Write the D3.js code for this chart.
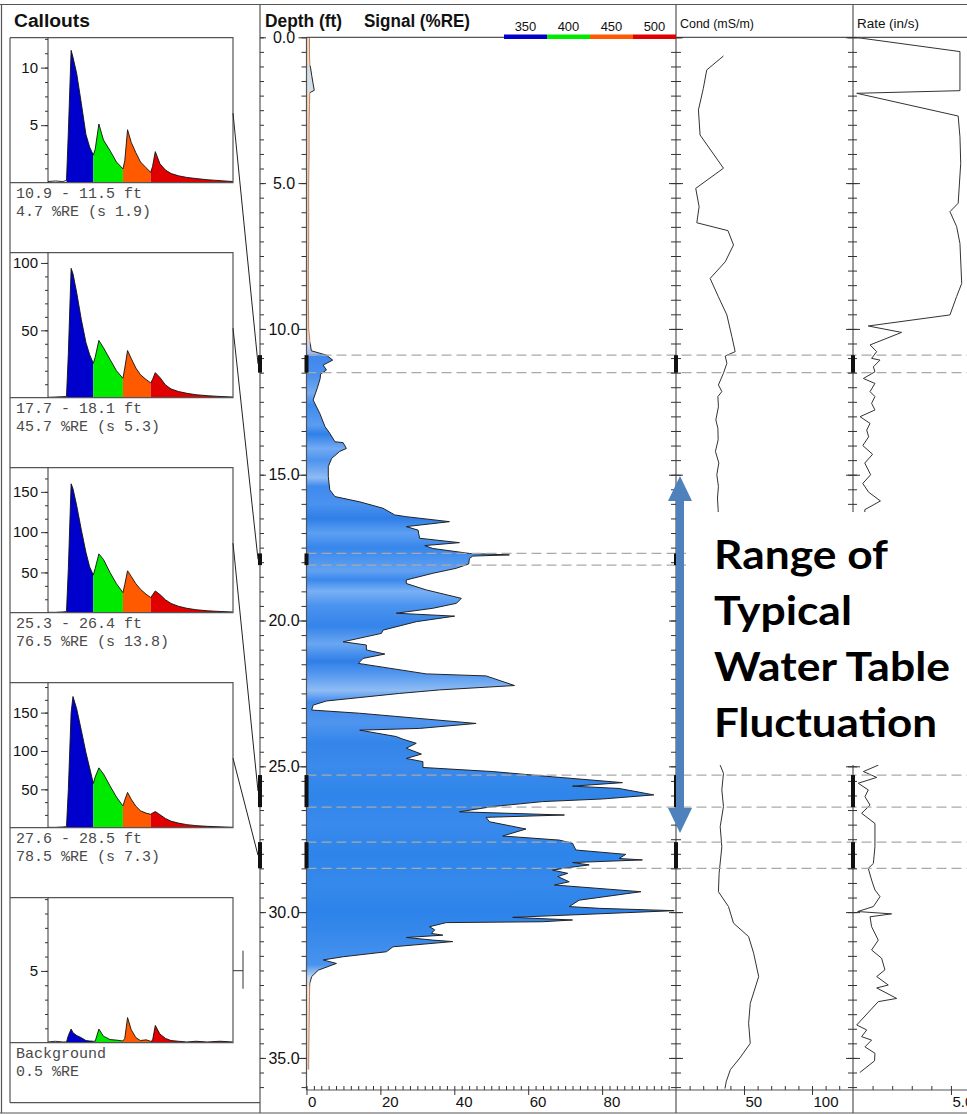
<!DOCTYPE html>
<html>
<head>
<meta charset="utf-8">
<script src="https://cdn.jsdelivr.net/npm/d3@7"></script>
<style>
  body { margin: 0; background: #fff; }
  svg { display: block; font-family: "Liberation Sans", Arial, sans-serif; }
</style>
</head>
<body>
<svg id="chart" width="967" height="1114"></svg>
<script>
// ---------- Signal log (%RE) ----------
const sigDepth = [0.0,0.5,0.95,1.05,1.3,1.6,1.82,1.9,2.3,3.0,4.0,5.0,6.0,7.0,8.0,9.0,10.0,10.4,10.75,10.9,11.07,11.24,11.41,11.55,11.7,12.0,12.44,12.9,13.35,13.58,13.87,13.9,14.1,14.2,14.44,14.72,15.07,15.52,15.75,15.93,16.15,16.38,16.44,16.61,16.78,16.9,17.18,17.33,17.43,17.53,17.7,17.75,17.79,17.87,18.06,18.21,18.38,18.61,18.73,18.95,19.24,19.41,19.58,19.75,19.85,20.04,20.33,20.44,20.73,20.84,21.01,21.15,21.3,21.47,21.83,21.9,22.23,22.38,22.5,22.76,22.9,23.07,23.18,23.53,23.7,23.76,23.98,24.07,24.21,24.38,24.58,24.73,24.84,25.04,25.18,25.36,25.53,25.56,25.68,25.76,25.98,26.12,26.21,26.38,26.56,26.67,26.75,26.9,27.15,27.39,27.53,27.64,27.87,28.02,28.16,28.21,28.3,28.38,28.47,28.56,28.67,28.78,28.96,29.07,29.18,29.3,29.59,29.81,29.87,29.95,30.02,30.18,30.27,30.33,30.36,30.5,30.61,30.73,30.79,30.87,30.96,31.01,31.19,31.36,31.53,31.64,31.76,31.99,32.21,32.44,32.9,34.0,35.07,35.4];
const sigValue = [0.8,0.8,0.9,1.1,1.4,1.8,2.1,0.9,0.8,0.7,0.7,0.6,0.6,0.6,0.5,0.5,0.6,0.9,1.3,5.4,7.1,4.5,5.4,3.8,3.7,3.0,1.8,3.6,5.0,6.3,7.7,9.9,10.8,9.0,6.8,5.9,5.9,6.3,7.7,14.4,20.7,23.9,27.0,38.7,27.0,30.2,30.6,41.4,32.0,34.2,44.1,54.9,45.0,44.1,43.9,40.5,34.2,27.0,27.0,32.4,41.9,40.6,34.2,24.3,40.1,29.7,20.7,20.3,9.9,16.2,16.2,21.2,15.3,14.0,32.4,48.6,56.3,36.0,25.2,5.4,1.8,1.4,14.4,45.9,30.6,14.4,24.3,26.1,29.7,27.0,31.1,27.0,31.5,31.5,50.4,66.6,82.8,85.5,72.0,84.6,94.0,80.1,63.9,50.4,41.4,69.8,48.6,49.5,59.4,53.1,68.4,72.0,72.9,86.4,84.6,90.9,72.0,76.5,71.1,66.6,70.7,68.0,71.1,67.1,78.3,90.5,73.8,71.1,79.2,99.5,86.4,55.8,72.0,63.9,37.8,33.3,34.7,33.8,36.9,27.0,34.2,39.6,23.4,21.6,9.9,4.5,8.1,3.2,1.4,0.9,0.8,0.7,0.6,0.6];

// ---------- Conductivity (mS/m) ----------
const condDepth = [0.64,1.12,1.75,2.49,3.35,4.49,5.18,5.81,6.36,6.63,7.12,7.7,8.27,8.9,9.52,10.27,10.78,10.93,11.18,11.52,11.92,12.15,12.32,12.67,13.12,13.41,13.8,14.2,14.6,15.0,15.4,15.8,16.2,24.96,25.24,25.81,26.38,27.07,27.76,28.67,29.3,29.81,30.38,30.84,31.41,32.21,33.13,33.81,34.5,35.0,35.4,35.8,36.05];
const condValue = [34.9,22.6,20.1,16.5,17.7,34.9,14.5,17.0,15.3,38.2,42.3,36.2,25.1,31.2,37.4,41.1,43.5,36.2,37.4,34.9,31.2,33.7,30.8,31.2,29.3,30.8,31.0,29.0,31.5,30.0,31.2,30.5,31.0,32.5,34.9,33.7,34.9,32.5,33.7,31.7,31.2,38.6,42.3,53.4,57.1,60.8,54.6,53.4,54.6,47.0,40.0,37.0,36.0];

// ---------- Penetration rate (in/s) ----------
const rateDepth = [0.0,0.49,1.83,1.92,2.7,3.41,4.32,5.69,5.98,6.49,7.07,8.44,8.89,9.52,9.9,10.12,10.55,10.78,11.01,11.07,11.3,11.47,11.7,11.87,12.15,12.32,12.55,12.78,13.01,13.24,13.47,13.7,14.0,14.3,14.6,15.0,15.3,15.6,15.9,16.2,24.96,25.18,25.38,25.58,25.81,26.04,26.33,26.61,26.96,27.76,28.33,28.5,28.9,29.24,29.47,29.81,29.98,30.06,30.16,30.5,30.96,31.3,31.58,31.98,32.21,32.5,32.6,32.96,33.07,33.87,34.04,34.27,34.39,34.62,34.84,35.1,35.5];
const rateValue = [0.1,5.46,5.46,0.19,5.37,5.46,5.5,5.37,4.95,5.29,5.46,5.55,5.29,4.95,0.78,2.48,0.87,1.21,0.95,1.38,1.04,1.12,0.53,1.12,0.87,1.12,0.95,1.12,0.36,0.87,0.7,0.8,0.5,1.0,0.6,0.9,0.5,0.8,1.4,0.6,1.29,0.53,1.21,0.27,0.78,0.61,0.87,0.44,1.12,1.12,1.04,0.78,0.95,1.12,1.38,1.04,0.24,1.97,0.87,0.95,1.29,0.95,1.46,1.63,1.21,1.8,1.21,2.23,1.29,0.19,0.7,0.44,0.95,0.61,1.12,1.1,0.35];

// ---------- Callout intervals ----------
const calloutTop = [10.9, 17.7, 25.3, 27.6];
const calloutBottom = [11.5, 18.1, 26.4, 28.5];
const calloutLine1 = ["10.9 - 11.5 ft", "17.7 - 18.1 ft", "25.3 - 26.4 ft", "27.6 - 28.5 ft", "Background"];
const calloutLine2 = ["4.7 %RE (s 1.9)", "45.7 %RE (s 5.3)", "76.5 %RE (s 13.8)", "78.5 %RE (s 7.3)", "0.5 %RE"];
const calloutMax = [12.6, 107.6, 180, 189, 10.1];
const calloutLabels = [[5, 10], [50, 100], [50, 100, 150], [50, 100, 150], [5]];
const calloutMinorStep = [1.25, 10, 50 / 3, 50 / 3, 1];

// ---------- Waveforms (time in ns) ----------
const waveTime = [0,8,16,20,22,25,27,31,36,41,45,49,51,55,60,67,74,81,83,86,90,95,100,106,111,113,116,121,127,133,141,150,160,172,186,200];
const wave1 = [0.1,0.15,0.1,0.2,4.4,11.5,10.9,9.5,6.9,4.2,3.1,2.4,2.9,5.1,3.7,2.8,1.8,1.2,1.9,4.6,3.5,2.6,1.8,1.3,0.9,1.4,2.7,1.65,1.1,0.8,0.6,0.46,0.36,0.26,0.18,0.1];
const wave2 = [0.3,0.5,0.8,1,33,96,92,78,58,41,32,25.5,30,42.5,37,28.5,20,14.4,22,35,29,22,17,13.5,11,13.5,18.6,15,9.5,6.5,4.6,3.3,2.2,1.5,0.9,0.5];
const wave3 = [0.5,0.5,1,1.5,55,160,154,133,103,75,57,46.7,55,73,66,50,36,25,35,52,45,36,29,23,18.8,22,27,22.5,16,11.5,8,5.5,3.7,2.4,1.5,0.9];
const wave4 = [0.5,0.5,1,1.5,50,150,171,155,127,98,78,57.7,66,78,70,54.6,40,28.4,36,46,37,28,22,19,17.5,19,21,17,12,8.5,6,4,2.7,1.8,1.1,0.6];
const wave5 = [0.05,0.1,0.05,0.05,0.5,0.95,0.7,0.5,0.35,0.15,0.12,0.1,0.1,0.95,0.45,0.22,0.18,0.12,0.3,1.75,0.9,0.35,0.15,0.2,0.1,0.15,1.2,0.6,0.3,0.15,0.1,0.05,0.1,0.05,0.1,0.05];
const waves = [wave1, wave2, wave3, wave4, wave5];

// channels (nm) and the sample index where each channel starts/ends
const channelNames = ["350", "400", "450", "500"];
const channelColors = ["#0000cc", "#00ea00", "#ff5a00", "#e00000"];
const channelStartIdx = [3, 11, 17, 24];
const channelEndIdx = [11, 17, 24, 35];

// depth ticks
const depthMajor = d3.range(0, 36, 5);
const depthMinor = d3.range(0, 36.01, 0.5);

// shading of the signal fill along depth
const fillStops = [
  [0, "#f7d6bf"], [0.95, "#f7d6bf"], [1.0, "#d4dfe9"], [1.85, "#d4dfe9"], [1.9, "#f7d6bf"],
  [10.3, "#f5d3c0"], [10.55, "#c9d3f3"], [10.85, "#9db7f0"], [10.95, "#3f88ec"],
  [11.6, "#4a90ee"], [12.2, "#75aaf2"], [12.6, "#3d8bee"], [13.3, "#5b9cf0"], [13.6, "#2f80ea"],
  [14.1, "#72aaf3"], [14.5, "#4d93ee"], [15.1, "#8ebaf5"], [15.4, "#3f8aee"], [16.0, "#4a92ef"],
  [16.5, "#2f7fe8"], [17.0, "#5c9ff2"], [17.5, "#3786ec"], [18.3, "#62a2f2"], [18.6, "#3b88ec"],
  [19.0, "#78b0f4"], [19.5, "#4a92ef"], [20.2, "#3584ea"], [20.8, "#6aa6f2"], [21.4, "#2f7fe8"],
  [21.9, "#5a9cf0"], [22.4, "#8fbcf4"], [22.8, "#3f8aee"], [23.5, "#4f95ef"], [24.2, "#3485ea"],
  [25.0, "#3b8aec"], [26.0, "#2f85ea"], [27.0, "#3a8aec"], [28.0, "#2d84ea"], [29.0, "#3689eb"],
  [30.0, "#2c83e9"], [31.0, "#3b8bec"], [31.8, "#4893ee"], [32.25, "#c4d8f3"], [32.6, "#fbe4d8"],
  [36.1, "#f7d6bf"]
];
const strokeStops = [
  [0, "#b98060"], [0.95, "#b98060"], [1.0, "#222"], [1.88, "#222"], [1.92, "#b98060"],
  [10.45, "#b98060"], [10.55, "#222"], [32.3, "#222"], [32.6, "#b98060"], [36.1, "#b98060"]
];

// ---------- Layout ----------
const svg = d3.select("#chart");
const topY = 37.3, baseY = 1090, depthMax = 36.1;
const depthAxisX = 306.5, calloutAxisX = 260, condX = 676, rateX = 853;

const y = d3.scaleLinear().domain([0, depthMax]).range([topY, baseY]);
const xSig = d3.scaleLinear().domain([0, 100]).range([depthAxisX, condX]);
const xCond = d3.scaleLinear().domain([0, 130]).range([condX, 852.8]);
const xRate = d3.scaleLinear().domain([0, 5.82]).range([rateX, 967]);

svg.append("rect").attr("width", 967).attr("height", 1114).attr("fill", "#fff");

const defs = svg.append("defs");
function depthGradient(id, stops) {
  const g = defs.append("linearGradient").attr("id", id)
    .attr("gradientUnits", "userSpaceOnUse")
    .attr("x1", 0).attr("x2", 0).attr("y1", y(0)).attr("y2", y(depthMax));
  g.selectAll("stop").data(stops).join("stop")
    .attr("offset", d => d[0] / depthMax)
    .attr("stop-color", d => d[1]);
}
depthGradient("sigFill", fillStops);
depthGradient("sigStroke", strokeStops);

// ---------- Signal ----------
const sigData = sigDepth.map((d, i) => ({ d, v: sigValue[i] }));
svg.append("path").datum(sigData)
  .attr("fill", "url(#sigFill)")
  .attr("d", d3.area().y(p => y(p.d)).x0(xSig(0)).x1(p => xSig(p.v)));
svg.append("path").datum(sigData)
  .attr("fill", "none").attr("stroke", "url(#sigStroke)").attr("stroke-width", 1)
  .attr("d", d3.line().y(p => y(p.d)).x(p => xSig(p.v)));

// ---------- Conductivity & rate ----------
svg.append("path").datum(condDepth.map((d, i) => [condValue[i], d]))
  .attr("fill", "none").attr("stroke", "#333").attr("stroke-width", 1)
  .attr("d", d3.line().x(p => xCond(p[0])).y(p => y(p[1])));
svg.append("path").datum(rateDepth.map((d, i) => [rateValue[i], d]))
  .attr("fill", "none").attr("stroke", "#333").attr("stroke-width", 1)
  .attr("d", d3.line().x(p => xRate(p[0])).y(p => y(p[1])));

// ---------- Interval dashed lines ----------
const edges = calloutTop.concat(calloutBottom);
svg.append("g").selectAll("line").data(edges).join("line")
  .attr("x1", depthAxisX).attr("x2", 967)
  .attr("y1", d => y(d)).attr("y2", d => y(d))
  .attr("stroke", "#a9a9a9").attr("stroke-width", 1.3).attr("stroke-dasharray", "10,5");

// ---------- Frame ----------
const frame = svg.append("g").attr("stroke", "#555").attr("stroke-width", 1.2).attr("fill", "none");
frame.append("line").attr("x1", 0).attr("x2", 967).attr("y1", 4.5).attr("y2", 4.5);
frame.append("line").attr("x1", 1.5).attr("x2", 1.5).attr("y1", 4.5).attr("y2", 1113);
frame.append("line").attr("x1", 0).attr("x2", 967).attr("y1", 1113).attr("y2", 1113);
[calloutAxisX, condX, rateX].forEach(x =>
  frame.append("line").attr("x1", x).attr("x2", x).attr("y1", 4.5).attr("y2", 1113));
frame.append("line").attr("x1", depthAxisX).attr("x2", depthAxisX).attr("y1", topY).attr("y2", baseY);
frame.append("line").attr("x1", depthAxisX).attr("x2", 967).attr("y1", topY).attr("y2", topY);
frame.append("line").attr("x1", depthAxisX).attr("x2", 967).attr("y1", baseY).attr("y2", baseY);

// depth ticks on the panel edges
function depthTicks(x, axisFn, size, values) {
  const g = svg.append("g").attr("transform", `translate(${x},0)`)
    .call(axisFn(y).tickValues(values).tickSize(size).tickFormat(""));
  g.select(".domain").remove();
  g.selectAll("line").attr("stroke", "#333");
  return g;
}
depthTicks(calloutAxisX, d3.axisRight, 4, depthMinor);
depthTicks(calloutAxisX, d3.axisRight, 6, depthMajor);
depthTicks(depthAxisX, d3.axisLeft, 5, depthMinor);
depthTicks(depthAxisX, d3.axisLeft, 8, depthMajor);
depthTicks(condX, d3.axisLeft, 5, depthMinor);
depthTicks(condX, d3.axisRight, 5, depthMinor);
depthTicks(condX, d3.axisLeft, 7, depthMajor);
depthTicks(condX, d3.axisRight, 7, depthMajor);
depthTicks(rateX, d3.axisLeft, 5, depthMinor);
depthTicks(rateX, d3.axisRight, 4, depthMinor);
depthTicks(rateX, d3.axisLeft, 7, depthMajor);
depthTicks(rateX, d3.axisRight, 7, depthMajor);

// depth labels
const depthLab = svg.append("g").attr("transform", `translate(${depthAxisX},0)`)
  .call(d3.axisLeft(y).tickValues(depthMajor).tickSize(0).tickFormat(d3.format(".1f")));
depthLab.select(".domain").remove();
depthLab.selectAll("text").attr("x", -22.5).attr("text-anchor", "middle")
  .style("font-size", "16px").style("font-family", "Liberation Sans, Arial, sans-serif").attr("fill", "#111");

// bottom axes
function bottomAxis(scale, minorVals, majorVals, fmt) {
  const g1 = svg.append("g").attr("transform", `translate(0,${baseY})`)
    .call(d3.axisTop(scale).tickValues(minorVals).tickSize(4).tickFormat(""));
  g1.select(".domain").remove();
  g1.selectAll("line").attr("stroke", "#333");
  const g2 = svg.append("g").attr("transform", `translate(0,${baseY})`)
    .call(d3.axisBottom(scale).tickValues(majorVals).tickSize(5).tickPadding(1).tickFormat(fmt));
  g2.select(".domain").remove();
  g2.selectAll("line").attr("stroke", "#333");
  g2.selectAll("text").attr("text-anchor", "start").attr("dx", 1)
    .style("font-size", "15px").style("font-family", "Liberation Sans, Arial, sans-serif").attr("fill", "#111");
}
bottomAxis(xSig, d3.range(0, 100, 2), [0, 20, 40, 60, 80], d3.format("d"));
bottomAxis(xCond, d3.range(10, 130, 10), [50, 100], d3.format("d"));
bottomAxis(xRate, d3.range(1, 6, 1), [5], d3.format(".1f"));

// interval markers on the edges
[calloutAxisX, depthAxisX, condX, rateX].forEach(x => {
  svg.append("g").selectAll("rect").data(calloutTop).join("rect")
    .attr("x", x - 2).attr("width", 4)
    .attr("y", d => y(d)).attr("height", (d, i) => y(calloutBottom[i]) - y(d))
    .attr("fill", "#111");
});

// ---------- Callouts ----------
const boxLeft = 10, plotLeft = 48, boxRight = 233, boxStep = 215, plotH = 145, boxTop0 = 37.7;
const xWave = d3.scaleLinear().domain([0, 200]).range([plotLeft, boxRight]);

svg.append("line").attr("x1", boxLeft).attr("x2", boxLeft).attr("y1", boxTop0).attr("y2", 1102.7)
  .attr("stroke", "#555").attr("stroke-width", 1.2);
svg.append("line").attr("x1", boxLeft).attr("x2", calloutAxisX).attr("y1", 1102.7).attr("y2", 1102.7)
  .attr("stroke", "#555").attr("stroke-width", 1.2);

waves.forEach((w, k) => {
  const top = boxTop0 + k * boxStep, base = top + plotH;
  const yW = d3.scaleLinear().domain([0, calloutMax[k]]).range([base, top]);
  const g = svg.append("g");

  // channel fills
  channelNames.forEach((c, ci) => {
    const pts = waveTime.map((t, i) => [t, w[i]]).slice(channelStartIdx[ci], channelEndIdx[ci] + 1);
    g.append("path").datum(pts).attr("fill", channelColors[ci])
      .attr("d", d3.area().x(p => xWave(p[0])).y0(base).y1(p => yW(p[1])));
  });
  g.append("path").datum(waveTime.map((t, i) => [t, w[i]]))
    .attr("fill", "none").attr("stroke", "#111").attr("stroke-width", 0.9)
    .attr("d", d3.line().x(p => xWave(p[0])).y(p => yW(p[1])));

  // box
  g.append("path").attr("fill", "none").attr("stroke", "#555").attr("stroke-width", 1.2)
    .attr("d", `M${boxLeft},${top}H${boxRight}V${base}H${boxLeft}`);
  g.append("line").attr("x1", plotLeft).attr("x2", plotLeft).attr("y1", top).attr("y2", base)
    .attr("stroke", "#333").attr("stroke-width", 1);

  // y ticks
  const minor = g.append("g").attr("transform", `translate(${plotLeft},0)`)
    .call(d3.axisLeft(yW).tickValues(d3.range(calloutMinorStep[k], calloutMax[k], calloutMinorStep[k])).tickSize(3).tickFormat(""));
  minor.select(".domain").remove();
  minor.selectAll("line").attr("stroke", "#333");
  const major = g.append("g").attr("transform", `translate(${plotLeft},0)`)
    .call(d3.axisLeft(yW).tickValues(calloutLabels[k]).tickSize(7).tickPadding(3).tickFormat(d3.format("d")));
  major.select(".domain").remove();
  major.selectAll("line").attr("stroke", "#333");
  major.selectAll("text").style("font-size", "15px").attr("fill", "#111")
    .style("font-family", "Liberation Sans, Arial, sans-serif");

  // captions
  [calloutLine1[k], calloutLine2[k]].forEach((s, li) => {
    g.append("text").attr("x", 16).attr("y", base + 15 + li * 18)
      .style("font-family", "'Liberation Mono', 'Courier New', monospace")
      .style("font-size", "15px").attr("fill", "#4a4a4a").text(s);
  });

  // leader lines
  if (k < calloutTop.length) {
    const target = (calloutTop[k] + calloutBottom[k]) / 2;
    g.append("line").attr("x1", boxRight).attr("y1", top + 75.5)
      .attr("x2", calloutAxisX - 2).attr("y2", y(target))
      .attr("stroke", "#222").attr("stroke-width", 1);
  } else {
    g.append("path").attr("fill", "none").attr("stroke", "#333").attr("stroke-width", 1)
      .attr("d", `M${boxRight},${top + 73}H${boxRight + 10}M${boxRight + 10},${top + 53}V${top + 91}`);
  }
});

// ---------- Header ----------
const hdr = svg.append("g").attr("fill", "#111");
function hText(x, yy, size, bold, len, s) {
  const t = hdr.append("text").attr("x", x).attr("y", yy)
    .style("font-size", size + "px").style("font-weight", bold ? "bold" : "normal").text(s);
  if (len) t.attr("textLength", len).attr("lengthAdjust", "spacingAndGlyphs");
  return t;
}
hText(14, 27, 18, true, 76, "Callouts");
hText(265, 27, 18, true, 77, "Depth (ft)");
hText(364, 27, 18, true, 106, "Signal (%RE)");
hText(680, 28, 12, false, 74, "Cond (mS/m)");
hText(857, 28, 12, false, 62, "Rate (in/s)");

// channel legend
const legX = d3.scaleBand().domain(channelNames).range([504, 676]);
hdr.selectAll("rect.leg").data(channelNames).join("rect").attr("class", "leg")
  .attr("x", d => legX(d)).attr("width", legX.bandwidth()).attr("y", 34.5).attr("height", 4.5)
  .attr("fill", (d, i) => channelColors[i]);
hdr.selectAll("text.leg").data(channelNames).join("text").attr("class", "leg")
  .attr("x", d => legX(d) + legX.bandwidth() / 2).attr("y", 31).attr("text-anchor", "middle")
  .style("font-size", "13px").text(d => d);

// ---------- Annotation ----------
svg.append("rect").attr("x", 686).attr("y", 512).attr("width", 281).attr("height", 253).attr("fill", "#fff");
const arrowTop = 476, arrowBottom = 833, ax = 680, headL = 25, headW = 12, shaftW = 4;
svg.append("path").attr("fill", "#4f81bd")
  .attr("d", `M${ax},${arrowTop}L${ax + headW},${arrowTop + headL}H${ax + shaftW}V${arrowBottom - headL}H${ax + headW}` +
    `L${ax},${arrowBottom}L${ax - headW},${arrowBottom - headL}H${ax - shaftW}V${arrowTop + headL}H${ax - headW}Z`);
const note = ["Range of", "Typical", "Water Table", "Fluctuation"];
const noteLen = [174, 138, 236, 223];
svg.append("g").selectAll("text").data(note).join("text")
  .attr("x", 714).attr("y", (d, i) => 569 + i * 56)
  .style("font-family", "Lato, 'Open Sans', sans-serif").style("font-weight", "bold")
  .style("font-size", "40px").attr("fill", "#000")
  .attr("textLength", (d, i) => noteLen[i]).attr("lengthAdjust", "spacingAndGlyphs")
  .text(d => d);
</script>
</body>
</html>
